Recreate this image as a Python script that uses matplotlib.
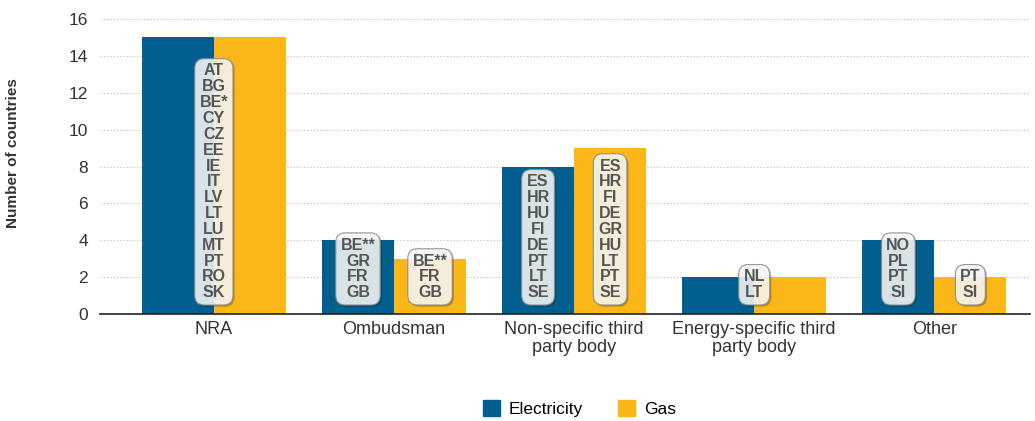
import matplotlib

matplotlib.use("Agg")
import matplotlib.pyplot as plt
import matplotlib.patheffects as pe
from matplotlib.patches import Patch
import numpy as np

BLUE = "#005F8E"
GOLD = "#FBB718"
INK = "#333333"
LABEL_INK = "#555555"
GRID = "#BBBBBB"

plt.rcParams["font.family"] = ["Liberation Sans Narrow", "Liberation Sans", "DejaVu Sans"]

categories = ["NRA", "Ombudsman", "Non-specific third\nparty body",
              "Energy-specific third\nparty body", "Other"]
electricity = [15, 4, 8, 2, 4]
gas = [15, 3, 9, 2, 2]

# country lists shown in the boxes: (group, which bar, countries)
# which: "both" = centred on group, "el" / "gas" = on that bar
country_boxes = [
    (0, "both", ["AT", "BG", "BE*", "CY", "CZ", "EE", "IE", "IT", "LV", "LT",
                 "LU", "MT", "PT", "RO", "SK"]),
    (1, "el", ["BE**", "GR", "FR", "GB"]),
    (1, "gas", ["BE**", "FR", "GB"]),
    (2, "el", ["ES", "HR", "HU", "FI", "DE", "PT", "LT", "SE"]),
    (2, "gas", ["ES", "HR", "FI", "DE", "GR", "HU", "LT", "PT", "SE"]),
    (3, "both", ["NL", "LT"]),
    (4, "el", ["NO", "PL", "PT", "SI"]),
    (4, "gas", ["PT", "SI"]),
]

fig = plt.figure(figsize=(10.35, 4.21), dpi=100)
ax = fig.add_axes([0.097, 0.254, 0.898, 0.701])

x = np.arange(len(categories))
w = 0.4
ax.bar(x - w / 2, electricity, w, color=BLUE, zorder=2, label="Electricity")
ax.bar(x + w / 2, gas, w, color=GOLD, zorder=2, label="Gas")

offs = {"both": 0.0, "el": -w / 2, "gas": w / 2}
for g, which, names in country_boxes:
    t = ax.text(x[g] + offs[which], 0.75, "\n".join(names), ha="center", va="bottom",
                fontsize=11.5, fontweight="bold", color=LABEL_INK, linespacing=1.07,
                zorder=4,
                bbox=dict(boxstyle="round,pad=0.3,rounding_size=0.6", fc="white",
                          alpha=0.85, ec="#8A8A8A", lw=0.9))
    t.get_bbox_patch().set_path_effects(
        [pe.SimplePatchShadow(offset=(1.2, -1.2), shadow_rgbFace="#000000", alpha=0.25),
         pe.Normal()])

ax.set_ylim(0, 16)
ax.set_yticks(range(0, 17, 2))
ax.set_xlim(-0.63, 4.53)
ax.set_xticks(x)
ax.set_xticklabels(categories, fontsize=13, color=INK, linespacing=1.1)
ax.tick_params(axis="y", labelsize=12.5, colors=INK, length=0, pad=9)
ax.tick_params(axis="x", length=0, pad=5)
ax.yaxis.grid(True, linestyle=(0, (1, 2)), color=GRID, lw=0.8, zorder=0)
for s in ["left", "right", "top"]:
    ax.spines[s].set_visible(False)
ax.spines["bottom"].set_color("#222222")
ax.spines["bottom"].set_linewidth(1.2)
ax.spines["bottom"].set_zorder(3)
ax.set_ylabel("Number of countries", fontsize=11, fontweight="bold", color=INK)
ax.yaxis.set_label_coords(-0.087, 0.546)

handles = [Patch(color=BLUE, label="Electricity"), Patch(color=GOLD, label="Gas")]
fig.legend(handles=handles, loc="center", bbox_to_anchor=(0.560, 0.03), ncol=2,
           frameon=False, fontsize=12.5, handlelength=1.0, handleheight=1.0,
           columnspacing=2.0, handletextpad=0.5)

fig.savefig("out.png", dpi=100, facecolor="white")
